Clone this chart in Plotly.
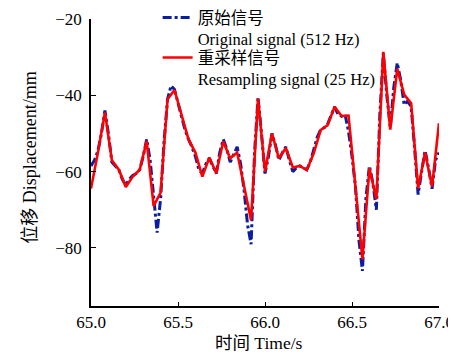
import numpy as np
import plotly.graph_objects as go

# Resampled signal (25 Hz), t = 65.00 .. 67.00 step 0.04
t_resampled = [round(65.0 + 0.04 * i, 2) for i in range(51)]
v_resampled = [-64.4, -55.0, -44.5, -57.0, -59.5, -64.0, -61.3, -59.5, -52.0, -69.0,
               -65.5, -41.0, -38.6, -45.0, -51.5, -55.0, -61.3, -56.3, -60.4, -52.1,
               -56.5, -55.0, -64.0, -72.7, -40.8, -60.0, -50.0, -56.5, -53.8, -58.9,
               -58.5, -59.6, -55.2, -49.1, -47.8, -43.0, -45.4, -45.3, -64.0, -83.0,
               -59.1, -67.2, -28.6, -49.0, -33.0, -39.8, -42.1, -64.4, -55.0, -63.9,
               -47.3]

# Original signal (read at 0.02 s intervals)
t_original = [round(65.0 + 0.02 * i, 2) for i in range(101)]
v_original = [-58.5, -57.0, -54.5, -50.0, -44.0, -50.0, -57.5, -58.5, -59.5, -62.0,
              -63.5, -62.0, -61.0, -60.5, -59.5, -56.0, -51.5, -57.0, -66.0, -76.0,
              -67.0, -52.0, -41.0, -37.5, -38.5, -42.0, -45.5, -49.0, -51.5, -53.5,
              -56.0, -59.5, -60.5, -58.0, -56.5, -58.5, -60.5, -55.0, -51.5, -54.0,
              -57.5, -55.5, -53.5, -58.0, -65.0, -74.0, -79.0, -55.0, -40.5, -50.0,
              -60.5, -56.0, -50.0, -53.0, -57.0, -55.0, -53.5, -57.0, -60.0, -59.0,
              -58.5, -59.0, -59.5, -57.5, -54.5, -51.0, -49.0, -48.5, -47.5, -45.0,
              -43.0, -45.0, -45.5, -45.0, -49.5, -56.0, -64.0, -78.0, -86.0, -67.0,
              -58.5, -63.0, -70.0, -45.0, -29.0, -40.0, -48.5, -38.0, -31.5, -36.0,
              -42.5, -41.5, -43.0, -54.0, -66.0, -60.0, -54.5, -59.0, -64.5, -57.0,
              -55.0]

x_ticks = [65.0, 65.5, 66.0, 66.5, 67.0]
x_ticklabels = ["65.0", "65.5", "66.0", "66.5", "67.0"]
y_ticks = [-20, -40, -60, -80]
y_ticklabels = ["\u221220", "\u221240", "\u221260", "\u221280"]
x_title = "时间 Time/s"
y_title = "位移 Displacement/mm"

FONT = "Liberation Serif, Times New Roman, Noto Sans CJK SC, serif"

fig = go.Figure()
fig.add_trace(go.Scatter(
    x=t_original, y=v_original, mode="lines",
    name="原始信号<br>Original signal (512 Hz)",
    line=dict(color="#0a1ea0", width=3, dash="dashdot"),
    legend="legend",
))
fig.add_trace(go.Scatter(
    x=t_resampled, y=v_resampled, mode="lines",
    name="重采样信号<br>Resampling signal (25 Hz)",
    line=dict(color="#ff0000", width=2.6),
    legend="legend2",
))

leg_common = dict(
    xref="container", yref="paper", xanchor="left", yanchor="top",
    bgcolor="rgba(0,0,0,0)", borderwidth=0,
    font=dict(family=FONT, size=16.5, color="black"),
    valign="top", itemwidth=30,
)

# page body has an 8px margin, so the figure is 8px smaller than the window
fig.update_layout(
    width=448, height=350,
    margin=dict(l=83, r=17, t=11, b=52, autoexpand=False),
    paper_bgcolor="white", plot_bgcolor="white",
    font=dict(family=FONT, size=17, color="black"),
    showlegend=True,
    legend=dict(x=0.334, y=1.0655, **leg_common),
    legend2=dict(x=0.334, y=0.926, **leg_common),
    xaxis=dict(
        range=[65.0, 67.0], tickvals=x_ticks, ticktext=x_ticklabels,
        showgrid=False, zeroline=False, showline=True, linecolor="black", linewidth=1.5,
        ticks="inside", ticklen=4, tickwidth=1.2, tickcolor="black",
        tickfont=dict(size=17), ticklabelstandoff=0,
    ),
    yaxis=dict(
        range=[-95.2, -20.0], tickvals=y_ticks, ticktext=y_ticklabels,
        showgrid=False, zeroline=False, showline=True, linecolor="black", linewidth=1.5,
        ticks="inside", ticklen=5, tickwidth=1.2, tickcolor="black",
        tickfont=dict(size=17), ticklabelstandoff=4,
    ),
    annotations=[
        dict(text=x_title, xref="paper", yref="paper", x=0.483, y=-0.13,
             xanchor="center", yanchor="middle", showarrow=False,
             font=dict(family=FONT, size=17.5, color="black")),
        dict(text=y_title, xref="paper", yref="paper", x=-0.176, y=0.516,
             xanchor="center", yanchor="middle", showarrow=False, textangle=-90,
             font=dict(family=FONT, size=18, color="black")),
    ],
)

fig.write_html("out.html")
